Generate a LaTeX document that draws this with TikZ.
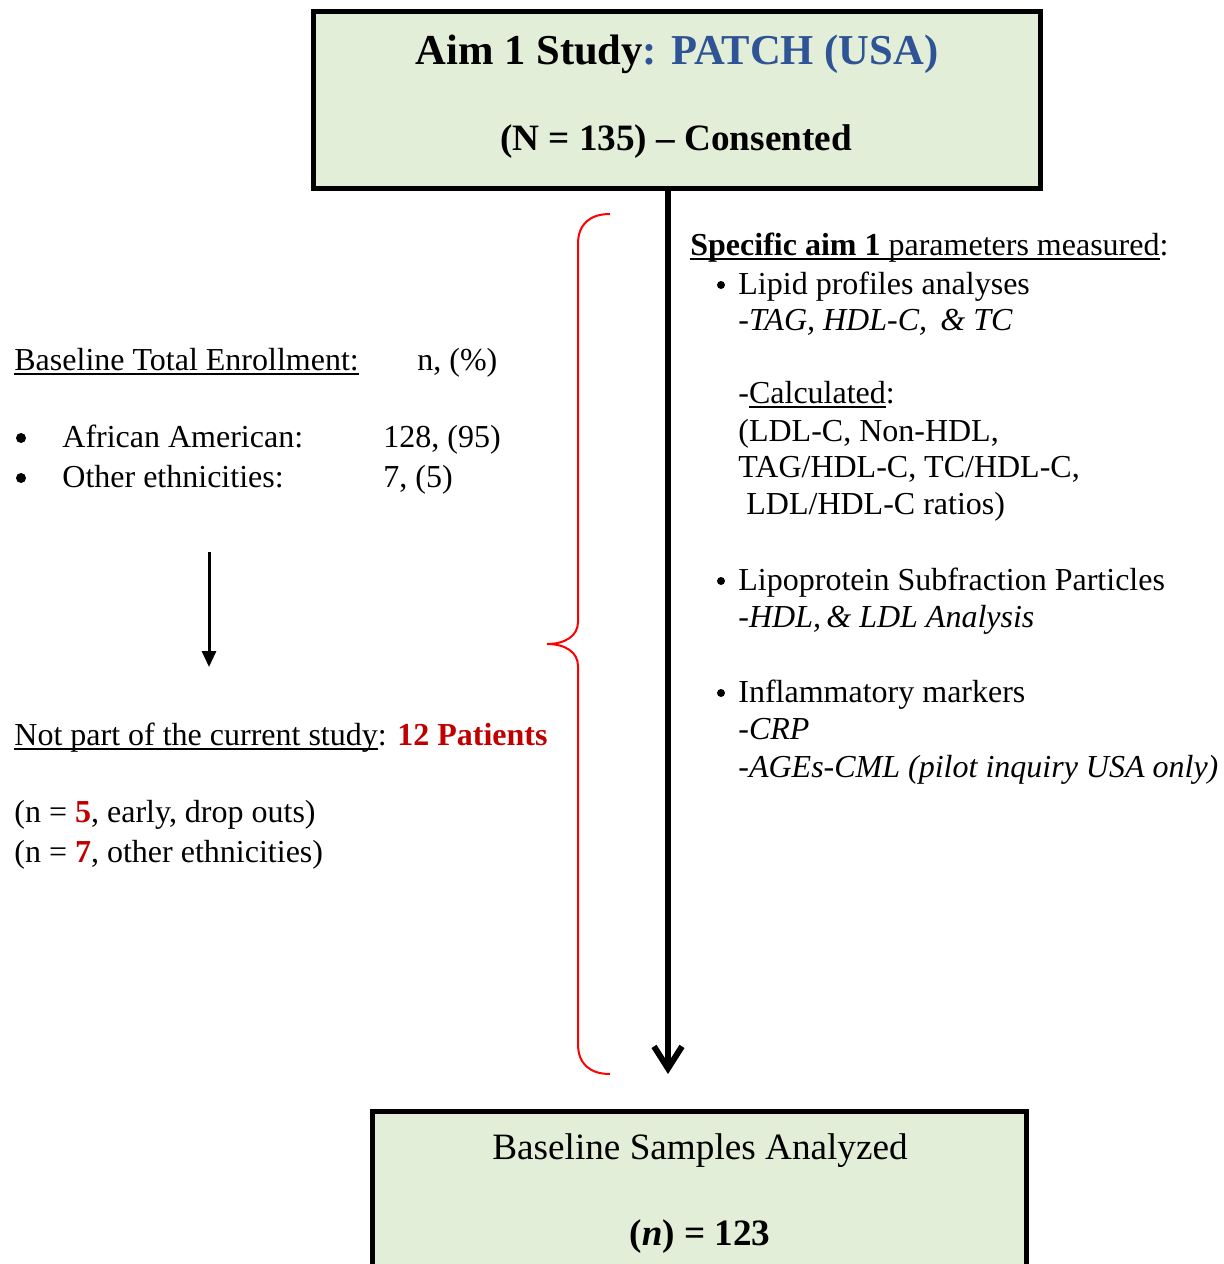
\documentclass[tikz,border=0pt]{standalone}
\usepackage{fontspec}
\setmainfont{Liberation Serif}
\usetikzlibrary{arrows.meta}
\definecolor{boxgreen}{RGB}{226,238,216}
\definecolor{patchblue}{RGB}{47,84,150}
\definecolor{darkred}{RGB}{192,0,0}
\newsavebox\ulbox
\newcommand\undl[1]{\sbox\ulbox{#1}\rlap{\rule[-2.4pt]{\wd\ulbox}{0.9pt}}\usebox\ulbox}
\begin{document}
\begin{tikzpicture}[x=0.5pt,y=-0.5pt,
  bigbox/.style={draw=black,line width=2.5pt,fill=boxgreen,inner sep=0,rectangle},
  txt/.style={inner sep=0,anchor=base west,font=\fontsize{16}{19}\selectfont},
  ctrtxt/.style={inner sep=0,anchor=base},
  bigdot/.style={circle,fill=black,inner sep=0,minimum size=5pt},
  smalldot/.style={circle,fill=black,inner sep=0,minimum size=4pt},
  mainflow/.style={line width=3pt,-{Straight Barb[length=11pt,width=14pt]}},
  sideflow/.style={line width=1.5pt,-{Triangle[length=8pt,width=7pt]}},
  bracestyle/.style={draw=red,line width=1pt}]
\useasboundingbox (0,0) rectangle (1223,1264);
\clip (0,0) rectangle (1223,1264);
% top box
\node[bigbox,minimum width=363.5pt,minimum height=88.5pt] (top) at (677,100) {};
\node[ctrtxt,font=\fontsize{21.3}{25}\selectfont\bfseries] (title1) at (677,64) {Aim 1 Study\textcolor{patchblue}{: PATCH (USA)}};
\node[ctrtxt,font=\fontsize{18.6}{22}\selectfont\bfseries] (title2) at (676,150) {(N = 135) – Consented};
% bottom box
\node[bigbox,minimum width=327pt,minimum height=94pt] (bottom) at (699.5,1205.5) {};
\node[ctrtxt,font=\fontsize{18.6}{22}\selectfont] (bot1) at (700,1159) {Baseline Samples Analyzed};
\node[ctrtxt,font=\fontsize{18.6}{22}\selectfont\bfseries] (bot2) at (700,1245) {(\textit{n}) = 123};
% main connector
\coordinate (mainend) at (668,1074);
\draw[mainflow] (top.south -| mainend) -- (mainend);
% brace
\draw[bracestyle] (610,214) .. controls (590,214) and (578,224) .. (578,244) -- (578,622)
  .. controls (578,636) and (565,644) .. (547,644)
  .. controls (565,644) and (578,652) .. (578,666) -- (578,1044)
  .. controls (578,1064) and (590,1074) .. (610,1074);
% left column
\node[txt] (enrol) at (14,370) {\undl{Baseline Total Enrollment:}};
\node[txt] (npct) at (417,370) {n, (\%)};
\node[bigdot] (b1) at (21,438) {};
\node[txt] (aa) at (62,447) {African American:};
\node[txt] (aan) at (383,447) {128, (95)};
\node[bigdot] (b2) at (21,478) {};
\node[txt] (oe) at (62,487) {Other ethnicities:};
\node[txt] (oen) at (383,487) {7, (5)};
\coordinate (sidestart) at (209,552);
\coordinate (sideend) at (209,667);
\draw[sideflow] (sidestart) -- (sideend);
\node[txt] (notpart) at (14,745) {\undl{Not part of the current study}: \textcolor{darkred}{\textbf{12 Patients}}};
\node[txt] (drop) at (14,822) {(n = \textcolor{darkred}{\textbf{5}}, early, drop outs)};
\node[txt] (other) at (14,862) {(n = \textcolor{darkred}{\textbf{7}}, other ethnicities)};
% right column
\node[txt] (spec) at (690,255) {\undl{\textbf{Specific aim 1} parameters measured}:};
\node[smalldot] (rb1) at (721,285) {};
\node[txt] (lipid) at (738,294) {Lipid profiles analyses};
\node[txt] (tag) at (738,330) {\textit{-TAG, HDL-C,\ \,\& TC}};
\node[txt] (calc) at (738,403) {-\undl{Calculated}:};
\node[txt] (ldl) at (738,441) {(LDL-C, Non-HDL,};
\node[txt] (ratio) at (738,477) {TAG/HDL-C, TC/HDL-C,};
\node[txt] (ratio2) at (746,514) {LDL/HDL-C ratios)};
\node[smalldot] (rb2) at (721,581) {};
\node[txt] (lipo) at (738,590) {Lipoprotein Subfraction Particles};
\node[txt] (hdl) at (738,627) {\textit{-HDL,\,\& LDL Analysis}};
\node[smalldot] (rb3) at (721,693) {};
\node[txt] (infl) at (738,702) {Inflammatory markers};
\node[txt] (crp) at (738,739) {\textit{-CRP}};
\node[txt] (ages) at (738,777) {\textit{-AGEs-CML (pilot inquiry USA only)}};
\end{tikzpicture}
\end{document}
